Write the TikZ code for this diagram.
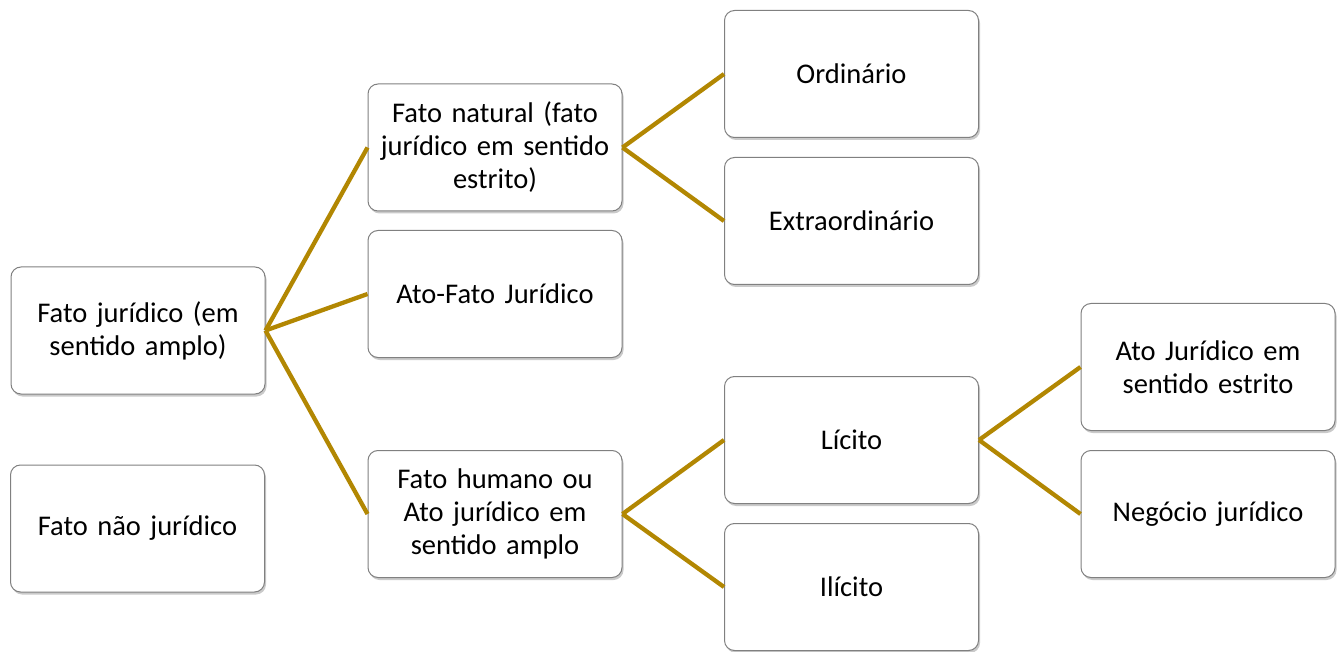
\documentclass[tikz,border=0pt]{standalone}
\usepackage{fontspec}
\setmainfont[WordSpace=0.75]{Carlito}
\usetikzlibrary{shadows}
\definecolor{gold}{RGB}{178,135,2}
\definecolor{boxline}{RGB}{128,128,128}
\begin{document}
\begin{tikzpicture}[x=1pt,y=-1pt,
  box/.style={draw=boxline, line width=1pt, fill=white, rounded corners=10pt,
    minimum width=254pt, minimum height=127pt, text width=244pt, align=center,
    inner sep=0pt, font=\fontsize{28.5}{33}\selectfont,
    drop shadow={shadow xshift=1.5pt, shadow yshift=-2.5pt, opacity=0.35, fill=black!60}},
  link/.style={draw=gold, line width=4.3pt}]
\useasboundingbox (0,0) rectangle (1341,652);
\node[box] (A) at (138,330.5) {Fato jurídico (em\\sentido amplo)};
\node[box] (B) at (137.5,528.5) {Fato não jurídico};
\node[box] (C) at (495,147.5) {Fato natural (fato\\jurídico em sentido\\estrito)};
\node[box] (D) at (495,294) {Ato-Fato Jurídico};
\node[box] (E) at (495,514) {Fato humano ou\\Ato jurídico em\\sentido amplo};
\node[box] (F) at (851.5,74) {Ordinário};
\node[box] (G) at (851.5,221) {Extraordinário};
\node[box] (H) at (851.5,440) {Lícito};
\node[box] (I) at (851.5,587) {Ilícito};
\node[box] (J) at (1208,367) {Ato Jurídico em\\sentido estrito};
\node[box] (K) at (1208,514) {Negócio jurídico};
\draw[link] (A.east) -- (C.west);
\draw[link] (A.east) -- (D.west);
\draw[link] (A.east) -- (E.west);
\draw[link] (C.east) -- (F.west);
\draw[link] (C.east) -- (G.west);
\draw[link] (E.east) -- (H.west);
\draw[link] (E.east) -- (I.west);
\draw[link] (H.east) -- (J.west);
\draw[link] (H.east) -- (K.west);
\end{tikzpicture}
\end{document}
